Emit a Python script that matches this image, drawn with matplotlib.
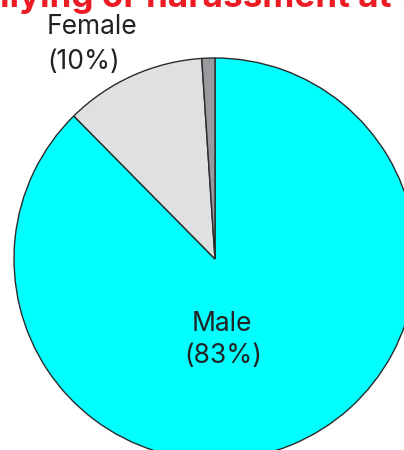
import matplotlib
matplotlib.use("Agg")
import matplotlib.pyplot as plt

# slice shares (clockwise from 12 o'clock)
categories = ["Male", "Female", "Other"]
slice_share = [87.6, 11.35, 1.05]
slice_colors = ["#00FFFF", "#DFE0E2", "#999A9E"]
# percentages as printed on the chart
label_pct = [83, 10, None]

title = "Bullying or harassment at work"

W, H = 404, 450
fig = plt.figure(figsize=(W / 100, H / 100), dpi=100)
ax = fig.add_axes([0, 0, 1, 1])

# pie centre / radius in pixel units (y up)
cx, cy, r = 215, H - 259, 201

ax.pie(slice_share, colors=slice_colors, startangle=90, counterclock=False,
       center=(cx, cy), radius=r,
       wedgeprops=dict(edgecolor="#2a2a2a", linewidth=1.0))
ax.set_xlim(0, W)
ax.set_ylim(0, H)
ax.set_aspect("equal")
ax.axis("off")

font = ["Inter", "DejaVu Sans"]
txt_color = "#222222"
fs_lab = 19

# labels, one line at a time (baselines in pixels from the top)
ax.text(222, H - 331, categories[0], ha="center", va="baseline",
        fontsize=fs_lab, color=txt_color, family=font)
ax.text(223, H - 363, f"({label_pct[0]}%)", ha="center", va="baseline",
        fontsize=fs_lab, color=txt_color, family=font)
ax.text(47, H - 34, categories[1], ha="left", va="baseline",
        fontsize=fs_lab, color=txt_color, family=font)
ax.text(47, H - 69, f"({label_pct[1]}%)", ha="left", va="baseline",
        fontsize=fs_lab, color=txt_color, family=font)

# title is cut off at the top of the picture: fit "llying ... at" into ~392px
renderer = fig.canvas.get_renderer()
probe = fig.text(0, 0, "llying or harassment at", fontsize=20,
                 fontweight="bold", family=font)
wpx = probe.get_window_extent(renderer).width
probe.remove()
fs = 20 * 392 / wpx
probe = fig.text(0, 0, "Bu", fontsize=fs, fontweight="bold", family=font)
bu = probe.get_window_extent(renderer).width
probe.remove()
fig.text(-bu / W, (H - 7) / H, title, ha="left", va="baseline",
         fontsize=fs, fontweight="bold", color="#ED1C24", family=font)

fig.savefig("out.png", dpi=100)
